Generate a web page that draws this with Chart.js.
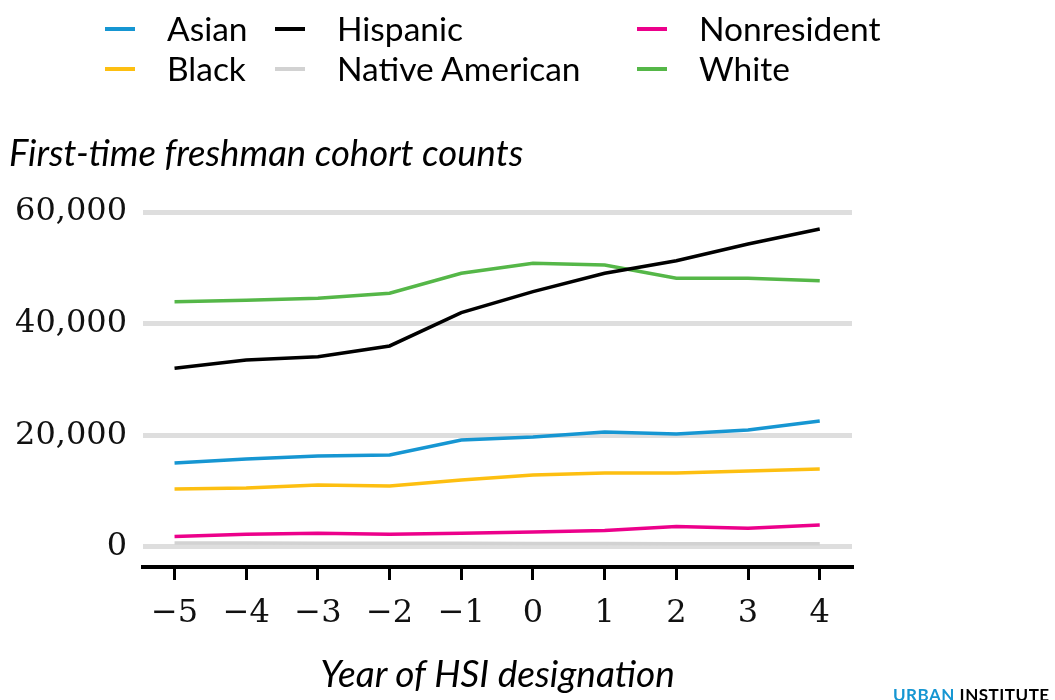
<!DOCTYPE html>
<html>
<head>
<meta charset="utf-8">
<script src="https://cdn.jsdelivr.net/npm/chart.js@4"></script>
<style>
  html, body { margin: 0; padding: 0; background: #fff; overflow: hidden; }
  body { width: 1055px; height: 700px; position: relative; font-family: Lato, sans-serif; }
  #wrap { position: absolute; left: 0; top: 0; width: 1055px; height: 700px; }
  .leg { position: absolute; font-size: 33.5px; color: #000; white-space: nowrap; line-height: 40px; }
  .leg span.sw { position: absolute; top: 19px; width: 30px; height: 4px; }
  .leg span.tx { position: absolute; left: 62px; top: 0; }
  #ytitle { position: absolute; left: 9px; top: 130px; font-size: 36.5px; font-style: italic; line-height: 44px; }
  #xtitle { position: absolute; left: 0; width: 995px; text-align: center; top: 651px; font-size: 37px; font-style: italic; line-height: 44px; }
  #logo { position: absolute; left: 893px; top: 684px; font-size: 17px; font-weight: bold; letter-spacing: 0.5px; }
</style>
</head>
<body>
<div id="wrap"><canvas id="chart" width="1055" height="700"></canvas></div>
<div id="legend"></div>
<div id="ytitle">First-time freshman cohort counts</div>
<div id="xtitle">Year of HSI designation</div>
<div id="logo"><span style="color:#1696d2">URBAN</span> INSTITUTE</div>
<script>
// dados
const anos = [-5, -4, -3, -2, -1, 0, 1, 2, 3, 4];
const yTicks = [0, 20000, 40000, 60000];
const grupos = ["Asian", "Black", "Hispanic", "Native American", "Nonresident", "White"];
const cores = ["#1696d2", "#fdbf11", "#000000", "#d2d2d2", "#ec008b", "#55b748"];

const asian = [15050, 15760, 16300, 16480, 19160, 19700, 20600, 20240, 20960, 22570];
const black = [10390, 10570, 11100, 10930, 12000, 12900, 13250, 13250, 13600, 13970];
const hispanic = [32000, 33490, 34080, 36000, 41960, 45730, 49020, 51280, 54270, 56960];
const nativeAmerican = [700, 700, 650, 650, 650, 600, 600, 550, 550, 550];
const nonresident = [1850, 2270, 2450, 2270, 2450, 2690, 2920, 3640, 3350, 3940];
const white = [43930, 44200, 44540, 45440, 49020, 50810, 50510, 48120, 48120, 47700];

const series = [asian, black, hispanic, nativeAmerican, nonresident, white];

// legenda em colunas (2 por coluna)
const colX = [105, 275, 637];
const legend = document.getElementById("legend");
grupos.forEach((g, i) => {
  const d = document.createElement("div");
  d.className = "leg";
  d.style.left = colX[Math.floor(i / 2)] + "px";
  d.style.top = (8 + (i % 2) * 40) + "px";
  d.innerHTML = `<span class="sw" style="background:${cores[i]}"></span><span class="tx">${g}</span>`;
  legend.appendChild(d);
});

const minus = (v) => String(v).replace("-", "\u2212");

const ctx = document.getElementById("chart").getContext("2d");
new Chart(ctx, {
  type: "line",
  data: {
    datasets: grupos.map((g, i) => ({
      label: g,
      data: anos.map((a, j) => ({ x: a, y: series[i][j] })),
      borderColor: cores[i],
      backgroundColor: cores[i],
      borderWidth: 3.5,
      pointRadius: 0,
      tension: 0,
      clip: false,
    })),
  },
  options: {
    responsive: false,
    animation: false,
    layout: { padding: { left: 0, top: 212, right: 203, bottom: 0 } },
    plugins: { legend: { display: false }, tooltip: { enabled: false } },
    scales: {
      x: {
        type: "linear",
        min: -5.44,
        max: 4.45,
        afterBuildTicks: (s) => { s.ticks = anos.map((v) => ({ value: v })); },
        afterFit: (s) => { s.height = 133; },
        border: { display: true, color: "#000", width: 4 },
        grid: { drawOnChartArea: false, color: "#000", lineWidth: 3, tickLength: 13 },
        ticks: {
          padding: 14,
          color: "#111",
          font: { family: "DejaVu Serif", size: 32 },
          callback: (v) => minus(v),
        },
      },
      y: {
        min: -3600,
        max: 60000,
        afterBuildTicks: (s) => { s.ticks = yTicks.map((v) => ({ value: v })); },
        afterFit: (s) => { s.width = 143; },
        border: { display: false },
        grid: { color: "#dedede", lineWidth: 5, drawTicks: false },
        ticks: {
          padding: 16,
          color: "#111",
          font: { family: "DejaVu Serif", size: 32 },
          callback: (v) => v.toLocaleString("en-US"),
        },
      },
    },
  },
});
</script>
</body>
</html>
